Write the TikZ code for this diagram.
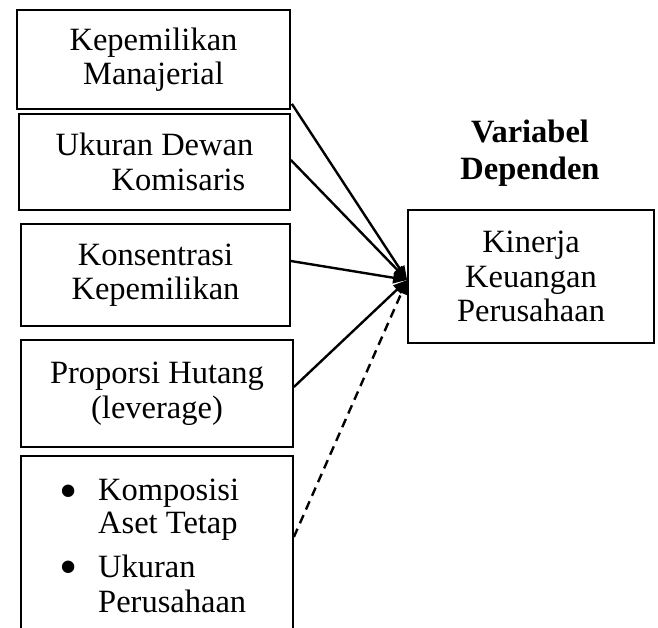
\documentclass[tikz,border=0pt]{standalone}
\usepackage{fontspec}
\setmainfont{Liberation Serif}
\usetikzlibrary{arrows.meta}
\tikzset{
  box/.style={draw=black, line width=1.7pt, align=center, inner sep=0pt,
    font=\fontsize{32.5}{34.5}\selectfont},
  txt/.style={inner sep=0pt, font=\fontsize{32.5}{34.5}\selectfont},
  bul/.style={inner sep=0pt, font=\fontsize{52}{52}\selectfont},
  conn/.style={line width=2.4pt, -{Triangle[length=14pt,width=11pt]}},
  dconn/.style={conn, dash pattern=on 9pt off 6pt}
}
\begin{document}
\begin{tikzpicture}[x=1pt,y=-1pt]
\useasboundingbox (0,0) rectangle (658,627);
\clip (0,0) rectangle (658,627);
\node[box, minimum width=273pt, minimum height=99pt] (b1) at (153.5,59.5) {Kepemilikan\\Manajerial};
\node[box, minimum width=271pt, minimum height=96pt] (b2) at (154.5,162) {Ukuran Dewan\\\hspace*{48pt}Komisaris};
\node[box, minimum width=269pt, minimum height=102pt] (b3) at (155.5,275) {Konsentrasi\\Kepemilikan};
\node[box, minimum width=272pt, minimum height=107pt] (b4) at (157,393.5) {Proporsi Hutang\\(leverage)};
\node[box, minimum width=272pt, minimum height=210pt] (b5) at (157,561) {};
\node[bul] (k1) at (69,497) {•};
\node[txt, anchor=base west] (t1) at (98,500) {Komposisi};
\node[txt, anchor=base west] (t2) at (98,533) {Aset Tetap};
\node[bul] (k2) at (69,573) {•};
\node[txt, anchor=base west] (t3) at (98,577) {Ukuran};
\node[txt, anchor=base west] (t4) at (98,612) {Perusahaan};
\node[align=center, inner sep=0pt, font=\fontsize{32.5}{37}\selectfont\bfseries] (title) at (530,153) {Variabel\\Dependen};
\node[box, minimum width=246pt, minimum height=133pt] (kin) at (531,276.5) {Kinerja\\Keuangan\\Perusahaan};
\coordinate (tip) at ([yshift=-3.5pt]kin.west);
\draw[conn] ([xshift=1pt,yshift=6pt]b1.south east) -- (tip);
\draw[conn] ([yshift=2pt]b2.east) -- (tip);
\draw[conn] ([yshift=14pt]b3.east) -- (tip);
\draw[conn] ([yshift=6.5pt]b4.east) -- (tip);
\draw[dconn] ([yshift=24pt]b5.east) -- (tip);
\end{tikzpicture}
\end{document}
